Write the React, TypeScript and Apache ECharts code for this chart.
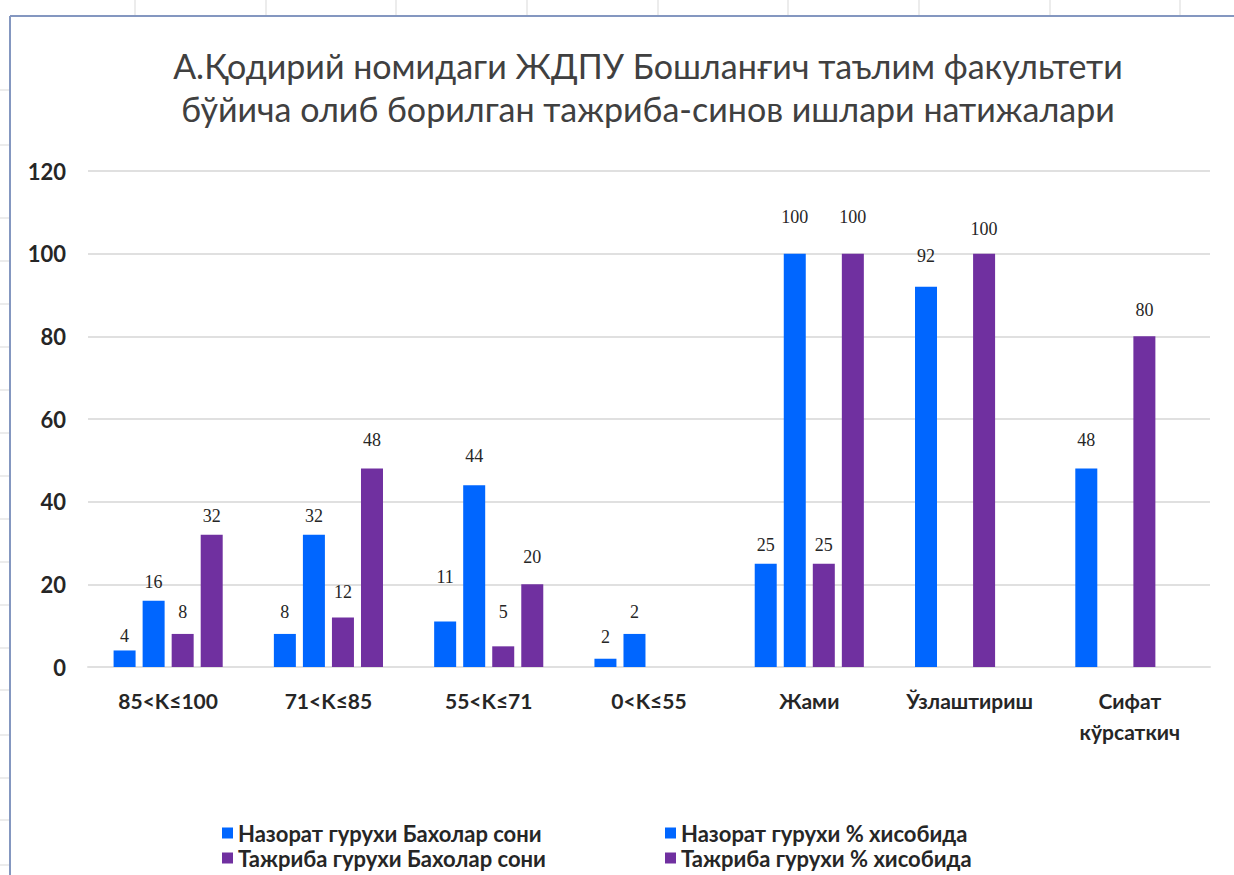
import React, { useEffect, useRef } from "react";
import * as echarts from "echarts";

const categories = ["85<K≤100", "71<K≤85", "55<K≤71", "0<K≤55", "Жами", "Ўзлаштириш", "Сифат\nкўрсаткич"];
const seriesNames = [
  "Назорат гурухи Бахолар сони",
  "Назорат гурухи % хисобида",
  "Тажриба гурухи Бахолар сони",
  "Тажриба гурухи % хисобида",
];
const nazoratCount: (number | null)[] = [4, 8, 11, 2, 25, 92, 48];
const nazoratPct: (number | null)[] = [16, 32, 44, 8, 100, null, null];
const nazoratPctLabels: string[] = ["16", "32", "44", "2", "100", "", ""];
const tajribaCount: (number | null)[] = [8, 12, 5, null, 25, 100, 80];
const tajribaPct: (number | null)[] = [32, 48, 20, null, 100, null, null];
const colors = ["#0066ff", "#0066ff", "#7030a0", "#7030a0"];
// extra upward shift (px) of each data label, as placed in the original
const labelLift: number[][] = [
  [0, 8, 31, 8, 5, 17, 15],
  [5, 5, 15, 8, 23, 0, 0],
  [8, 11, 20, 0, 5, 11, 12],
  [5, 15, 13, 0, 23, 0, 0],
];
const yTicks = { min: 0, max: 120, interval: 20 };
const sheetColX = [135, 266, 396, 527, 658, 788, 919, 1050, 1180];
const sheetRowY = [90, 145, 218, 261, 304, 347, 390, 433, 476, 519, 562, 605, 648, 690, 735, 778, 820, 865];

export default function App() {
  const ref = useRef<HTMLDivElement>(null);
  useEffect(() => {
    if (!ref.current) return;
    const chart = echarts.init(ref.current, null, { renderer: "svg" });
    const font = "Lato, 'Noto Sans', sans-serif";
    const datas = [nazoratCount, nazoratPct, tajribaCount, tajribaPct];
    const series = datas.map((d, i) => ({
      name: seriesNames[i],
      type: "bar" as const,
      data: d.map((v, j) =>
        v === null
          ? "-"
          : { value: v, label: { offset: [0, -labelLift[i][j]] } }
      ),
      barWidth: 22,
      barGap: "32%",
      itemStyle: { color: colors[i] },
      label: {
        show: true,
        position: "top" as const,
        distance: 5,
        fontFamily: "'Liberation Serif', serif",
        fontSize: 18,
        color: "#262626",
        ...(i === 1 ? { formatter: (p: any) => nazoratPctLabels[p.dataIndex] } : {}),
      },
    }));
    const graphics: any[] = [];
    sheetColX.forEach((x) =>
      graphics.push({ type: "line", silent: true, shape: { x1: x, y1: 0, x2: x, y2: 16 }, style: { stroke: "#d9d9d9", lineWidth: 1 } })
    );
    sheetRowY.forEach((y) =>
      graphics.push({ type: "line", silent: true, shape: { x1: 0, y1: y, x2: 10, y2: y }, style: { stroke: "#d9d9d9", lineWidth: 1 } })
    );
    graphics.push({ type: "line", silent: true, shape: { x1: 10, y1: 16, x2: 1234, y2: 16 }, style: { stroke: "#8497c0", lineWidth: 2 } });
    graphics.push({ type: "line", silent: true, shape: { x1: 10, y1: 16, x2: 10, y2: 875 }, style: { stroke: "#8497c0", lineWidth: 2 } });
    const legendBase = {
      orient: "vertical" as const,
      top: 821,
      padding: 0,
      itemGap: 1,
      itemWidth: 11,
      itemHeight: 11,
      icon: "rect",
      textStyle: { fontFamily: font, fontSize: 22, lineHeight: 24, fontWeight: "bold", color: "#262626" },
    };
    chart.setOption({
      animation: false,
      backgroundColor: "#ffffff",
      title: {
        text: "А.Қодирий номидаги ЖДПУ Бошланғич таълим факультети\nбўйича олиб борилган тажриба-синов ишлари натижалари",
        left: 648,
        top: 44,
        padding: 0,
        textAlign: "center",
        textStyle: { fontFamily: font, fontSize: 34, fontWeight: "normal", color: "#404040", lineHeight: 43 },
      },
      legend: [
        { ...legendBase, data: [seriesNames[0], seriesNames[2]], left: 222 },
        { ...legendBase, data: [seriesNames[1], seriesNames[3]], left: 665 },
      ],
      grid: { left: 88, right: 24, top: 171, bottom: 208, containLabel: false },
      xAxis: {
        type: "category",
        data: categories,
        axisLine: { show: true, lineStyle: { color: "#e0e0e0", width: 2 } },
        axisTick: { show: false },
        axisLabel: { fontFamily: font, fontSize: 21, fontWeight: "bold", color: "#262626", margin: 18, lineHeight: 31, interval: 0 },
      },
      yAxis: {
        type: "value",
        min: yTicks.min,
        max: yTicks.max,
        interval: yTicks.interval,
        axisLine: { show: false },
        axisTick: { show: false },
        splitLine: { lineStyle: { color: "#e0e0e0", width: 2 } },
        axisLabel: { fontFamily: font, fontSize: 22, fontWeight: "bold", color: "#262626", margin: 22 },
      },
      graphic: graphics,
      series,
    });
    return () => chart.dispose();
  }, []);
  return <div ref={ref} style={{ position: "absolute", left: 0, top: 0, width: 1234, height: 875 }} />;
}
